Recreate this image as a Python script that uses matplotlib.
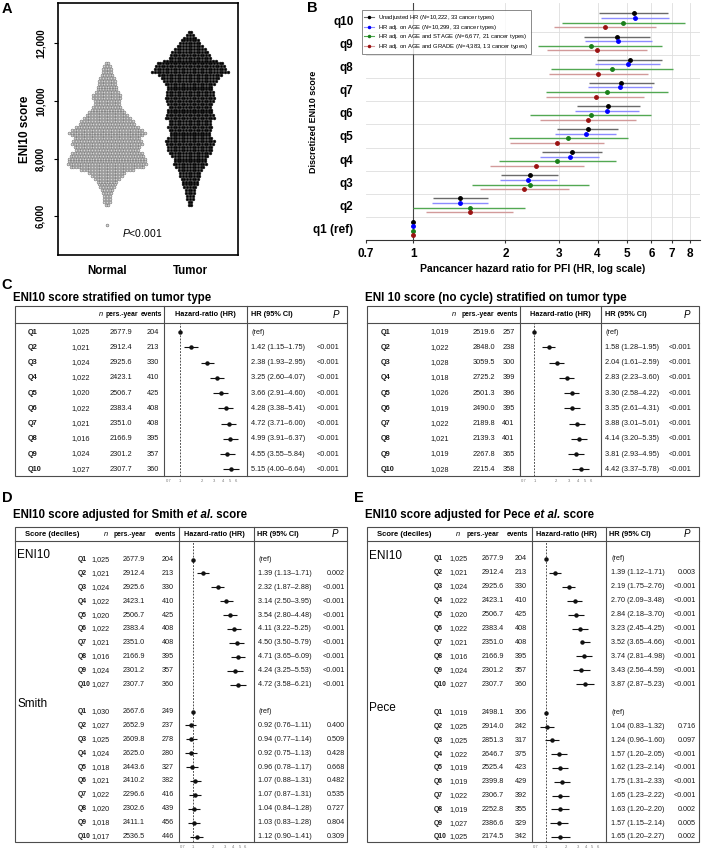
# -*- coding: utf-8 -*-
import numpy as np
import matplotlib
matplotlib.use("Agg")
import matplotlib.pyplot as plt
from matplotlib.lines import Line2D
from matplotlib.patches import Rectangle
from matplotlib.ticker import FixedLocator, NullLocator

plt.rcParams["font.family"] = ["Liberation Sans", "DejaVu Sans"]
plt.rcParams["mathtext.fontset"] = "custom"
plt.rcParams["mathtext.rm"] = "Liberation Sans"
plt.rcParams["mathtext.it"] = "Liberation Sans:italic"
plt.rcParams["mathtext.bf"] = "Liberation Sans:bold"

#%% Data

# A: beeswarm rows (score level, number of dots on that row)
normal_score = [5700] + list(range(6400, 11400, 100))
normal_count = [1,
                2, 3, 3, 3, 4, 5, 6, 7, 8, 10, 12, 14, 20, 28, 30, 29, 29, 28, 27, 24,
                25, 27, 26, 25, 27, 29, 27, 24, 21, 20, 18, 16, 14, 12, 11, 10, 10, 11,
                11, 9, 8, 8, 7, 7, 6, 5, 4, 4, 3, 2]
tumor_score = list(range(6400, 12500, 100))
tumor_count = [2, 2, 3, 3, 4, 4, 5, 6, 6, 7, 8, 8, 9, 11, 13, 12, 12, 14, 16, 17,
               17, 18, 19, 17, 15, 15, 16, 17, 16, 16, 19, 18, 17, 17, 16, 17, 18, 19,
               18, 18, 17, 17, 19, 20, 22, 24, 29, 27, 26, 25, 20, 16, 15, 14, 12, 10,
               8, 7, 5, 3, 2]

# B: pancancer HR per decile
b_groups = ['q1 (ref)', 'q2', 'q3', 'q4', 'q5', 'q6', 'q7', 'q8', 'q9', 'q10']
b_unadj_hr = [1, 1.42, 2.40, 3.29, 3.71, 4.34, 4.79, 5.09, 4.63, 5.26]
b_unadj_lo = [1, 1.16, 1.94, 2.63, 2.95, 3.43, 3.76, 3.97, 3.61, 4.05]
b_unadj_hi = [1, 1.76, 2.98, 4.14, 4.66, 5.51, 6.13, 6.49, 5.95, 6.79]
b_age_hr = [1, 1.42, 2.37, 3.24, 3.66, 4.29, 4.73, 5.02, 4.66, 5.29]
b_age_lo = [1, 1.15, 1.92, 2.59, 2.90, 3.37, 3.71, 3.93, 3.64, 4.10]
b_age_hi = [1, 1.75, 2.94, 4.05, 4.61, 5.45, 6.04, 6.42, 6.01, 6.84]
b_stage_hr = [1, 1.53, 2.41, 2.95, 3.21, 3.80, 4.29, 4.47, 3.80, 4.85]
b_stage_lo = [1, 1.00, 1.56, 1.90, 2.06, 2.41, 2.72, 2.82, 2.56, 3.05]
b_stage_hi = [1, 2.32, 3.74, 4.60, 5.04, 5.98, 6.79, 7.08, 6.49, 7.72]
b_grade_hr = [1, 1.53, 2.30, 2.52, 2.95, 3.71, 3.94, 4.02, 3.99, 4.24]
b_grade_lo = [1, 1.10, 1.65, 1.78, 2.07, 2.59, 2.72, 2.78, 2.74, 2.89]
b_grade_hi = [1, 2.11, 3.22, 3.61, 4.21, 5.33, 5.68, 5.83, 5.80, 6.21]
b_labels = [r"Unadjusted HR ($\mathit{N}$=10,222, 33 cancer types)",
            r"HR adj. on AGE ($\mathit{N}$=10,299, 33 cancer types)",
            r"HR adj. on AGE and STAGE ($\mathit{N}$=6,677, 21 cancer types)",
            r"HR adj. on AGE and GRADE ($\mathit{N}$=4,383, 13 cancer types)"]
b_ticks = [0.7, 1, 2, 3, 4, 5, 6, 7, 8]

# C left: ENI10 stratified on tumor type
c1_n = [1025, 1021, 1024, 1022, 1020, 1022, 1021, 1016, 1024, 1027]
c1_py = [2677.9, 2912.4, 2925.6, 2423.1, 2506.7, 2383.4, 2351.0, 2166.9, 2301.2, 2307.7]
c1_ev = [204, 213, 330, 410, 425, 408, 408, 395, 357, 360]
c1_hr = [1, 1.42, 2.38, 3.25, 3.66, 4.28, 4.72, 4.99, 4.55, 5.15]
c1_lo = [1, 1.15, 1.93, 2.60, 2.91, 3.38, 3.71, 3.91, 3.55, 4.00]
c1_hi = [1, 1.75, 2.95, 4.07, 4.60, 5.41, 6.00, 6.37, 5.84, 6.64]
c1_p = [''] + ['<0.001'] * 9

# C right: ENI 10 (no cycle)
c2_n = [1019, 1022, 1028, 1018, 1026, 1019, 1022, 1021, 1019, 1028]
c2_py = [2519.6, 2848.0, 3059.5, 2725.2, 2501.3, 2490.0, 2189.8, 2139.3, 2267.8, 2215.4]
c2_ev = [257, 238, 300, 399, 396, 395, 401, 401, 365, 358]
c2_hr = [1, 1.58, 2.04, 2.83, 3.30, 3.35, 3.88, 4.14, 3.81, 4.42]
c2_lo = [1, 1.28, 1.61, 2.23, 2.58, 2.61, 3.01, 3.20, 2.93, 3.37]
c2_hi = [1, 1.95, 2.59, 3.60, 4.22, 4.31, 5.01, 5.35, 4.95, 5.78]
c2_p = [''] + ['<0.001'] * 9

# D: adjusted for Smith et al.
d_eni_hr = [1, 1.39, 2.32, 3.14, 3.54, 4.11, 4.50, 4.71, 4.24, 4.72]
d_eni_lo = [1, 1.13, 1.87, 2.50, 2.80, 3.22, 3.50, 3.65, 3.25, 3.58]
d_eni_hi = [1, 1.71, 2.88, 3.95, 4.48, 5.25, 5.79, 6.09, 5.53, 6.21]
d_eni_p = ['', '0.002'] + ['<0.001'] * 8
smith_n = [1030, 1027, 1025, 1024, 1018, 1021, 1022, 1020, 1018, 1017]
smith_py = [2667.6, 2652.9, 2609.8, 2625.0, 2443.6, 2410.2, 2296.6, 2302.6, 2411.1, 2536.5]
smith_ev = [249, 237, 278, 280, 327, 382, 416, 439, 456, 446]
smith_hr = [1, 0.92, 0.94, 0.92, 0.96, 1.07, 1.07, 1.04, 1.03, 1.12]
smith_lo = [1, 0.76, 0.77, 0.75, 0.78, 0.88, 0.87, 0.84, 0.83, 0.90]
smith_hi = [1, 1.11, 1.14, 1.13, 1.17, 1.31, 1.31, 1.28, 1.28, 1.41]
smith_p = ['', '0.400', '0.509', '0.428', '0.668', '0.482', '0.535', '0.727', '0.804', '0.309']

# E: adjusted for Pece et al.
e_eni_hr = [1, 1.39, 2.19, 2.70, 2.84, 3.23, 3.52, 3.74, 3.43, 3.87]
e_eni_lo = [1, 1.12, 1.75, 2.09, 2.18, 2.45, 3.65, 2.81, 2.56, 2.87]
e_eni_hi = [1, 1.71, 2.76, 3.48, 3.70, 4.25, 4.66, 4.98, 4.59, 5.23]
e_eni_p = ['', '0.003'] + ['<0.001'] * 8
pece_n = [1019, 1025, 1025, 1022, 1019, 1019, 1022, 1019, 1027, 1025]
pece_py = [2498.1, 2914.0, 2851.3, 2646.7, 2525.4, 2399.8, 2306.7, 2252.8, 2386.6, 2174.5]
pece_ev = [306, 242, 317, 375, 423, 429, 392, 355, 329, 342]
pece_hr = [1, 1.04, 1.24, 1.57, 1.62, 1.75, 1.65, 1.63, 1.57, 1.65]
pece_lo = [1, 0.83, 0.96, 1.20, 1.23, 1.31, 1.23, 1.20, 1.15, 1.20]
pece_hi = [1, 1.32, 1.60, 2.05, 2.14, 2.33, 2.22, 2.20, 2.14, 2.27]
pece_p = ['', '0.716', '0.097', '<0.001', '<0.001', '<0.001', '<0.001', '0.002', '0.005', '0.002']

hr_ticks = [0.7, 1, 2, 3, 4, 5, 6]

#%% Figure in pixel units

W, H = 703, 850
fig = plt.figure(figsize=(W / 100, H / 100), dpi=100)
FR = '#4d4d4d'
TXT = '#1a1a1a'


def px_axes(x0, y0, x1, y1):
    return fig.add_axes([x0 / W, 1 - y1 / H, (x1 - x0) / W, (y1 - y0) / H])


ov = px_axes(0, 0, W, H)
ov.set_xlim(0, W)
ov.set_ylim(H, 0)
ov.axis('off')

for lab, x, y in [('A', 7, 9), ('B', 312, 8), ('C', 7, 285), ('D', 7, 498), ('E', 359, 498)]:
    ov.text(x, y, lab, fontsize=10.5, fontweight='bold', ha='center', va='center')

#%% A: beeswarm

axA = px_axes(58, 3, 238, 255)
dx = 0.0325
for center, scores, counts, fc, ec in [(1, normal_score, normal_count, '#d4d4d4', '#6e6e6e'),
                                       (2, tumor_score, tumor_count, '#000000', '#1e1e1e')]:
    xs, ys = [], []
    for s, c in zip(scores, counts):
        xs.extend(center + (np.arange(c) - (c - 1) / 2) * dx)
        ys.extend([s] * c)
    axA.scatter(xs, ys, s=4, facecolor=fc, edgecolor=ec, linewidth=0.4)
axA.set_xlim(0.41, 2.58)
axA.set_ylim(4650, 13400)
axA.set_xticks([1, 2])
axA.set_xticklabels(['Normal', 'Tumor'], fontsize=8.3, fontweight='bold')
axA.tick_params(axis='x', length=0, pad=7)
axA.set_yticks([6000, 8000, 10000, 12000])
axA.set_yticklabels(['6,000', '8,000', '10,000', '12,000'], rotation=90, va='center',
                    fontsize=7, fontweight='bold')
axA.tick_params(axis='y', length=3, pad=6)
axA.set_ylabel('ENI10 score', fontsize=8.5, fontweight='bold', labelpad=3)
for sp in axA.spines.values():
    sp.set_linewidth(1.2)
axA.text(1.43, 5420, r"$\mathit{P}$<0.001", fontsize=7.5, ha='center', va='center')

#%% B: pancancer forest

axB = px_axes(366, 3, 700, 240)
axB.set_xscale('log')
axB.set_xlim(0.7, 8.65)
axB.set_ylim(0.5, 10.75)
ypos = np.arange(1, 11)
for t in b_ticks[2:]:
    axB.axvline(t, color='#dedede', lw=0.6, zorder=0)
for k in range(1, 10):
    axB.axhline(k + 0.5, color='#dedede', lw=0.6, zorder=0)
axB.axvline(1, color='#444444', lw=0.8, zorder=1)
series = [(b_unadj_hr, b_unadj_lo, b_unadj_hi, '#000000', '#6a6a6a', 0.3),
          (b_age_hr, b_age_lo, b_age_hi, '#0000ff', '#8c8cff', 0.1),
          (b_stage_hr, b_stage_lo, b_stage_hi, '#1a7f1a', '#52a852', -0.1),
          (b_grade_hr, b_grade_lo, b_grade_hi, '#9b1212', '#d29a9a', -0.3)]
handles = []
for (hr, lo, hi, pc, lc, off), lab in zip(series, b_labels):
    axB.hlines(ypos + off, lo, hi, color=lc, lw=1.0, zorder=2)
    axB.plot(hr, ypos + off, 'o', ms=2.5, color=pc, zorder=3)
    handles.append(Line2D([0], [0], color=lc, lw=0.8, marker='o', ms=1.5,
                          markerfacecolor=pc, markeredgecolor=pc, label=lab))
axB.xaxis.set_major_locator(FixedLocator(b_ticks))
axB.xaxis.set_minor_locator(NullLocator())
axB.set_xticklabels([str(t) for t in b_ticks], fontsize=8.5, fontweight='bold')
axB.set_yticks(ypos)
axB.set_yticklabels(b_groups, fontsize=8.5, fontweight='bold')
axB.tick_params(axis='y', length=0, pad=9)
axB.tick_params(axis='x', length=2.5, pad=3, color='#333333')
for s in ['left', 'top', 'right']:
    axB.spines[s].set_visible(False)
axB.spines['bottom'].set_color('#333333')
axB.spines['bottom'].set_linewidth(0.8)
axB.set_xlabel('Pancancer hazard ratio for PFI (HR, log scale)', fontsize=7.5,
               fontweight='bold', labelpad=3)
axB.set_ylabel('Discretized ENI10 score', fontsize=6.5, fontweight='bold')
axB.yaxis.set_label_coords(-0.144, 0.5)
leg = axB.legend(handles=handles, loc='upper left', bbox_to_anchor=(-0.013, 0.969),
                 borderaxespad=0, fontsize=4.2, frameon=True, fancybox=False,
                 handlelength=1.6, handletextpad=0.8, labelspacing=0.12, borderpad=0.45)
leg.get_frame().set_edgecolor('#555555')
leg.get_frame().set_linewidth(0.6)

#%% C, D, E: forest tables


def title(x, y, parts, fs=8.3):
    t = ov.text(x, y, parts[0][0], fontsize=fs, fontweight='bold', ha='left', va='center')
    for txt, st in parts[1:]:
        t = ov.annotate(txt, xy=(1, 0), xycoords=t, fontsize=fs, fontweight='bold',
                        style=st, ha='left', va='bottom')


def frame(x0, x1, ytop, yhl, ybot, s1, s2, xlim):
    ov.add_patch(Rectangle((x0, ytop), x1 - x0, ybot - ytop, fill=False, ec=FR, lw=0.8))
    ov.plot([x0, x1], [yhl, yhl], color=FR, lw=0.8)
    for s in (s1, s2):
        ov.plot([s, s], [ytop, ybot], color=FR, lw=0.8)
    ax = px_axes(s1, yhl, s2, ybot)
    ax.set_xscale('log')
    ax.set_xlim(*xlim)
    ax.set_ylim(ybot, yhl)
    ax.patch.set_visible(False)
    for sp in ax.spines.values():
        sp.set_visible(False)
    ax.set_yticks([])
    ax.xaxis.set_major_locator(FixedLocator(hr_ticks))
    ax.xaxis.set_minor_locator(NullLocator())
    ax.set_xticklabels([str(t) for t in hr_ticks], fontsize=3, color='#777777')
    ax.tick_params(axis='x', length=0, pad=1.8)
    ax.axvline(1, ls=(0, (2.2, 1.6)), color='#333333', lw=0.6)
    return ax


def rows(ax, ys, cols, n, py, ev, hr, lo, hi, p, fs, n_ha, qfs):
    qx, nx, pyx, evx, hrx, px = cols
    ax.hlines(ys, lo, hi, color='#111111', lw=0.8)
    ax.plot(hr, ys, 'o', ms=2.2, color='#111111')
    for i, y in enumerate(ys):
        ov.text(qx, y, 'Q%d' % (i + 1), fontsize=qfs, fontweight='bold', ha='left',
                va='center', color=TXT)
        ov.text(nx, y, f'{n[i]:,}', fontsize=fs, ha=n_ha, va='center', color=TXT)
        ov.text(pyx, y, f'{py[i]:.1f}', fontsize=fs, ha='right', va='center', color=TXT)
        ov.text(evx, y, str(ev[i]), fontsize=fs, ha='right', va='center', color=TXT)
        txt = '(ref)' if i == 0 else f'{hr[i]:.2f} ({lo[i]:.2f}\u2013{hi[i]:.2f})'
        ov.text(hrx, y, txt, fontsize=fs, ha='left', va='center', color=TXT)
        ov.text(px, y, p[i], fontsize=fs, ha='right', va='center', color=TXT)


def header(y, hx, fs=4.9):
    # hx: n centre, pers.-year right, events right, HR centre, CI left, P right
    ov.text(hx[0], y, 'n', fontsize=fs + 0.4, style='italic', ha='center', va='center')
    ov.text(hx[1], y, 'pers.-year', fontsize=fs, fontweight='bold', ha='right', va='center')
    ov.text(hx[2], y, 'events', fontsize=fs, fontweight='bold', ha='right', va='center')
    ov.text(hx[3], y, 'Hazard-ratio (HR)', fontsize=5.3, fontweight='bold', ha='center', va='center')
    ov.text(hx[4], y, 'HR (95% CI)', fontsize=5.3, fontweight='bold', ha='left', va='center')
    ov.text(hx[5], y, 'P', fontsize=7, style='italic', ha='right', va='center')


# C left
title(13, 298, [('ENI10 score stratified on tumor type', 'normal')])
ax = frame(15, 347, 306, 323, 476, 164, 247, (0.60, 8.5))
header(315, [101, 138.5, 162.5, 205, 251, 339])
ys = 332 + np.arange(10) * 15.25
rows(ax, ys, [28, 90, 132, 159, 251, 339], c1_n, c1_py, c1_ev, c1_hr, c1_lo, c1_hi, c1_p,
     5.3, 'right', 5.3)

# C right
title(365, 298, [('ENI 10 score (no cycle) stratified on tumor type', 'normal')], fs=8.4)
ax = frame(367, 699, 306, 323, 476, 520, 601.3, (0.63, 8.5))
header(315, [454, 494.5, 518, 560, 605.3, 690.3])
rows(ax, ys, [380.3, 448.7, 495.3, 514.7, 605.3, 691.3], c2_n, c2_py, c2_ev,
     c2_hr, c2_lo, c2_hi, c2_p, 5.3, 'right', 5.3)

# D
title(13, 515, [('ENI10 score adjusted for Smith ', 'normal'), ('et al.', 'italic'),
                (' score', 'normal')])
ax = frame(15, 347, 527, 541, 842, 179, 254, (0.61, 8.2))
header(534, [106, 146, 176, 214, 256.7, 338])
ov.text(25, 534, 'Score (deciles)', fontsize=5.5, fontweight='bold', ha='left', va='center')
d_cols = [77.3, 91.5, 145, 174, 258.3, 345]
ov.text(17, 555.5, 'ENI10', fontsize=8.5, ha='left', va='center')
rows(ax, 559.5 + np.arange(10) * 13.9, d_cols, c1_n, c1_py, c1_ev,
     d_eni_hr, d_eni_lo, d_eni_hi, d_eni_p, 5.2, 'left', 4.9)
ov.text(17, 704, 'Smith', fontsize=8.5, ha='left', va='center')
rows(ax, 711.5 + np.arange(10) * 13.9, d_cols, smith_n, smith_py, smith_ev,
     smith_hr, smith_lo, smith_hi, smith_p, 5.2, 'left', 4.9)

# E
title(365, 515, [('ENI10 score adjusted for Pece ', 'normal'), ('et al.', 'italic'),
                 (' score', 'normal')])
ax = frame(367, 699, 527, 541, 842, 532, 606, (0.62, 8.0))
header(534, [458, 499, 528, 566, 608.7, 690.3])
ov.text(377, 534, 'Score (deciles)', fontsize=5.5, fontweight='bold', ha='left', va='center')
e_cols = [433.7, 449.5, 503.7, 527, 611.3, 696]
ov.text(369, 556, 'ENI10', fontsize=8.5, ha='left', va='center')
rows(ax, 559 + np.arange(10) * 13.9, e_cols, c1_n, c1_py, c1_ev,
     e_eni_hr, e_eni_lo, e_eni_hi, e_eni_p, 5.2, 'left', 4.9)
ov.text(369, 708.3, 'Pece', fontsize=8.5, ha='left', va='center')
rows(ax, 712.7 + np.arange(10) * 13.8, e_cols, pece_n, pece_py, pece_ev,
     pece_hr, pece_lo, pece_hi, pece_p, 5.2, 'left', 4.9)

fig.savefig('out.png', dpi=100, facecolor='white')
